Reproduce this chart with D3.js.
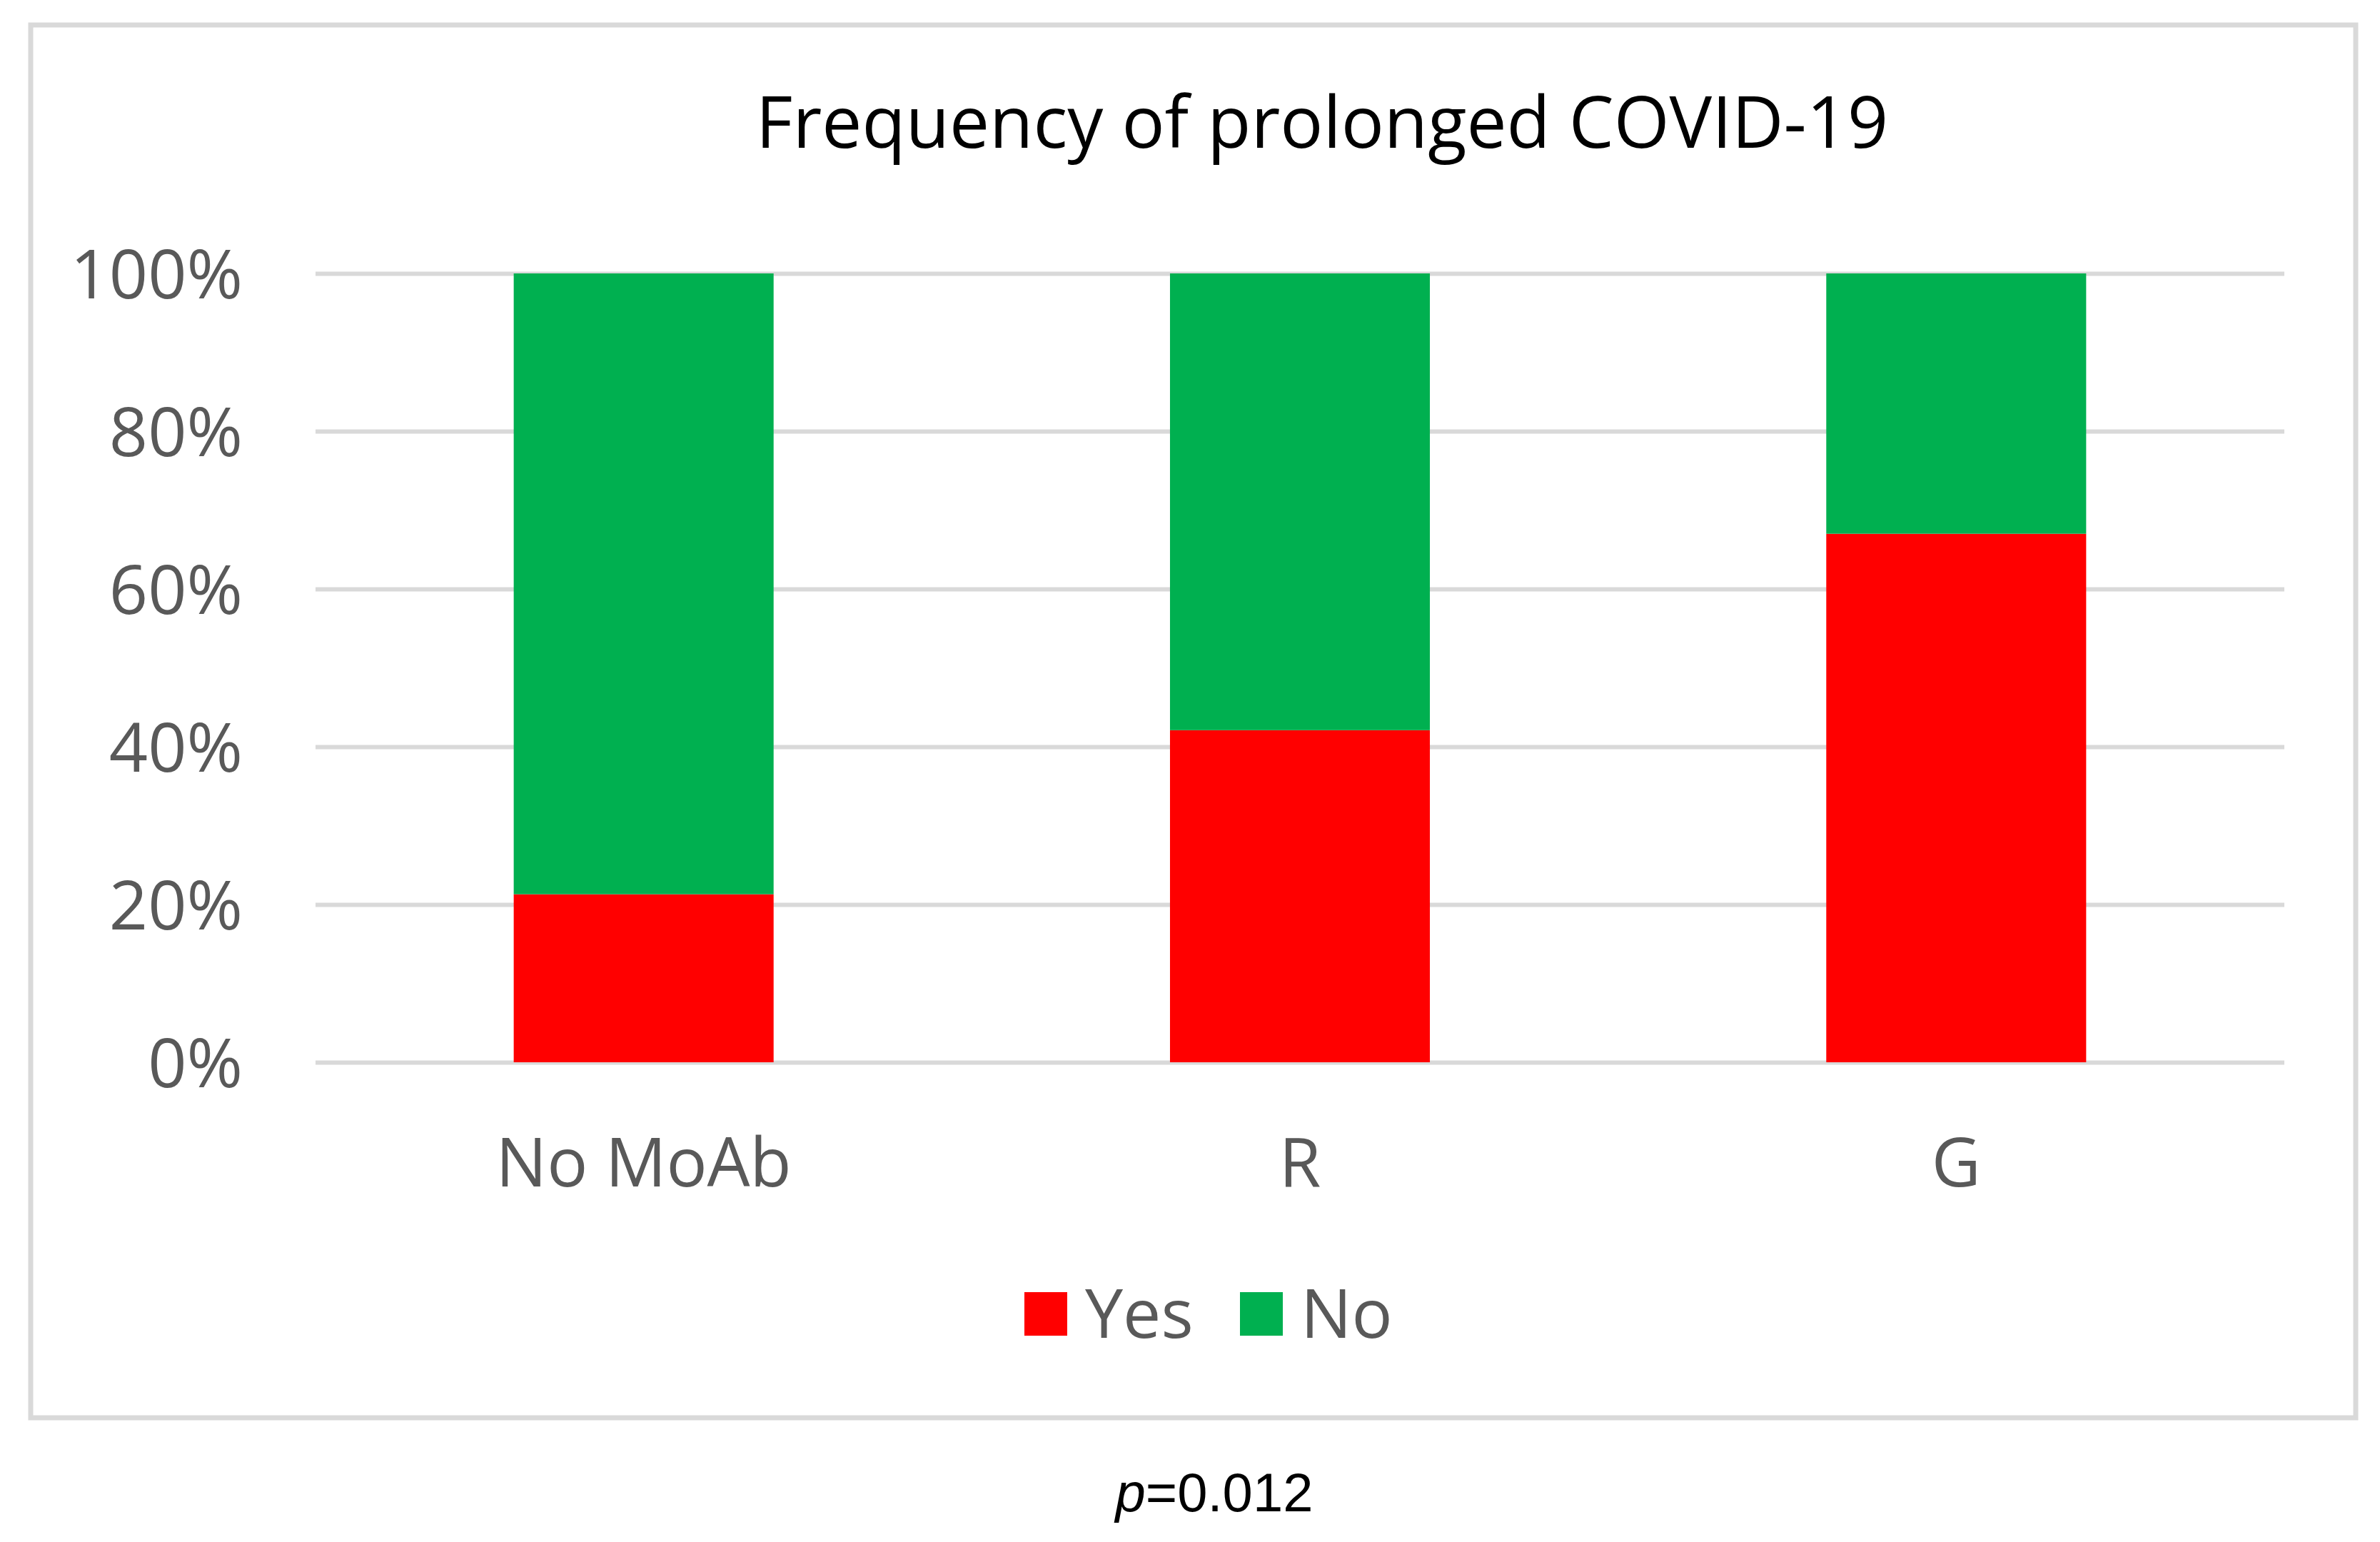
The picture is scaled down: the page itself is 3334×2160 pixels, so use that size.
<!DOCTYPE html>
<html>
<head>
<meta charset="utf-8">
<script src="https://cdn.jsdelivr.net/npm/d3@7/dist/d3.min.js"></script>
<style>
  html, body { margin: 0; padding: 0; background: #ffffff; }
  svg { display: block; }
</style>
</head>
<body>
<svg id="chart" width="3334" height="2160"></svg>
<script>
// ---- data ----
const categories = ["No MoAb", "R", "G"];
const seriesNames = ["Yes", "No"];
const yesValues = [21.3, 42.1, 67.0];
const noValues = [78.7, 57.9, 33.0];
const yTicks = [0, 20, 40, 60, 80, 100];
const colors = ["#ff0000", "#00b050"];
const titleText = "Frequency of prolonged COVID-19";

// ---- layout ----
const W = 3334, H = 2160;
const plot = { left: 442, right: 3200, top: 383, bottom: 1488 };
const svg = d3.select("#chart");
svg.append("rect").attr("x", 0).attr("y", 0).attr("width", W).attr("height", H).attr("fill", "#ffffff");

// outer chart border
svg.append("rect")
  .attr("x", 43).attr("y", 35).attr("width", 3257).attr("height", 1951)
  .attr("fill", "none").attr("stroke", "#d9d9d9").attr("stroke-width", 7);

const x = d3.scaleBand().domain(categories).range([plot.left, plot.right])
  .paddingInner(0.604).paddingOuter(0.302);
const y = d3.scaleLinear().domain([0, 100]).range([plot.bottom, plot.top]);
const color = d3.scaleOrdinal().domain(seriesNames).range(colors);

// y axis with gridlines
const yAxis = d3.axisLeft(y).tickValues(yTicks)
  .tickFormat(d => d + "%")
  .tickSize(-(plot.right - plot.left))
  .tickPadding(102);
const gy = svg.append("g").attr("transform", `translate(${plot.left},0)`).call(yAxis);
gy.select(".domain").remove();
gy.selectAll(".tick line").attr("stroke", "#d9d9d9").attr("stroke-width", 6);
gy.selectAll(".tick text")
  .attr("fill", "#595959")
  .attr("font-family", "'Open Sans', 'Noto Sans', sans-serif")
  .attr("font-size", 95)
  .attr("dy", "0.36em");

// stacked bars
const table = categories.map((c, i) => ({ category: c, Yes: yesValues[i], No: noValues[i] }));
const stacked = d3.stack().keys(seriesNames)(table);
svg.append("g").selectAll("g").data(stacked).join("g")
  .attr("fill", d => color(d.key))
  .selectAll("rect").data(d => d).join("rect")
  .attr("x", d => x(d.data.category))
  .attr("width", x.bandwidth())
  .attr("y", d => y(d[1]))
  .attr("height", d => y(d[0]) - y(d[1]));

// x axis labels
const xAxis = d3.axisBottom(x).tickSize(0).tickPadding(0);
const gx = svg.append("g").attr("transform", `translate(0,${plot.bottom})`).call(xAxis);
gx.select(".domain").remove();
gx.selectAll(".tick text")
  .attr("y", 174).attr("dy", "0")
  .attr("fill", "#595959")
  .attr("font-family", "'Open Sans', 'Noto Sans', sans-serif")
  .attr("font-size", 95);

// title
svg.append("text")
  .attr("x", 1852).attr("y", 207)
  .attr("text-anchor", "middle")
  .attr("font-family", "'Open Sans', 'Noto Sans', sans-serif")
  .attr("font-size", 100)
  .attr("fill", "#000000")
  .text(titleText);

// legend
const legendItems = [
  { name: seriesNames[0], sx: 1435, tx: 1520 },
  { name: seriesNames[1], sx: 1737, tx: 1822 }
];
const lg = svg.append("g");
lg.selectAll("rect").data(legendItems).join("rect")
  .attr("x", d => d.sx).attr("y", 1810).attr("width", 60).attr("height", 61)
  .attr("fill", d => color(d.name));
lg.selectAll("text").data(legendItems).join("text")
  .attr("x", d => d.tx).attr("y", 1874)
  .attr("fill", "#595959")
  .attr("font-family", "'Open Sans', 'Noto Sans', sans-serif")
  .attr("font-size", 95)
  .text(d => d.name);

// p-value note
const pt = svg.append("text")
  .attr("x", 1701).attr("y", 2117)
  .attr("text-anchor", "middle")
  .attr("font-family", "'Liberation Sans', Arial, sans-serif")
  .attr("font-size", 76)
  .attr("fill", "#000000");
pt.append("tspan").attr("font-style", "italic").text("p");
pt.append("tspan").text("=0.012");
</script>
</body>
</html>
